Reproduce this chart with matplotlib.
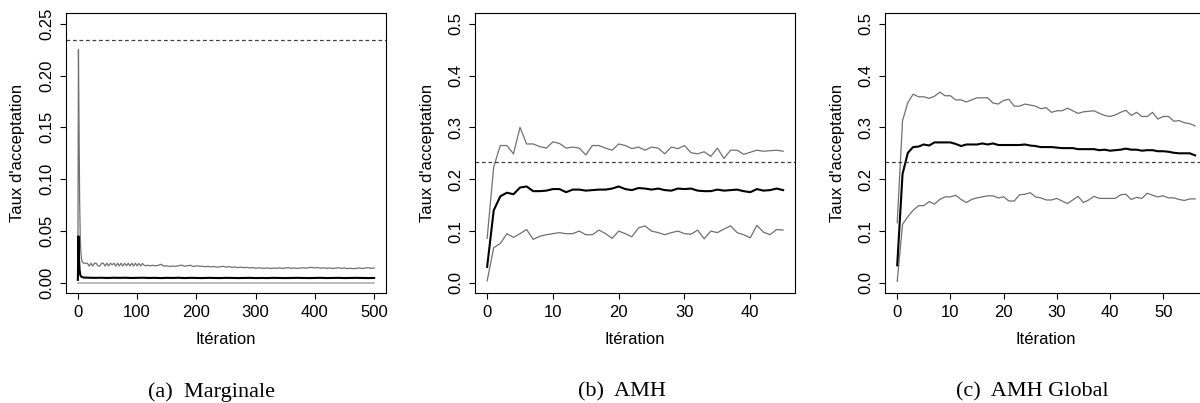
import numpy as np
import matplotlib
matplotlib.use("Agg")
import matplotlib.pyplot as plt

plt.rcParams['font.family'] = ['Liberation Sans', 'DejaVu Sans']

# ---------------- data ----------------
target_rate = 0.234

# Panel (a) Marginale
marg_up_x = [0, 1, 2, 3, 4, 5, 6, 7, 8] + list(range(10, 131, 3)) + list(range(135, 501, 5))
marg_up_y = [0.004, 0.225, 0.15, 0.08, 0.045, 0.030, 0.024, 0.021, 0.020,
             0.0190, 0.0190, 0.0190, 0.0163, 0.0190, 0.0163, 0.0190, 0.0190, 0.0163, 0.0163,
             0.0190, 0.0190, 0.0163, 0.0190, 0.0163, 0.0190, 0.0175, 0.0190, 0.0163, 0.0190,
             0.0163, 0.0190, 0.0163, 0.0190, 0.0165, 0.0190, 0.0163, 0.0190, 0.0163, 0.0190,
             0.0165, 0.0188, 0.0163, 0.0188, 0.0170, 0.0165, 0.0172, 0.0165, 0.0168, 0.0170,
             0.0165,
             0.0168, 0.0180, 0.0162, 0.0165, 0.0158, 0.0163, 0.0160, 0.0165, 0.0172, 0.0160,
             0.0166, 0.0170, 0.0158, 0.0165, 0.0162, 0.0160, 0.0156, 0.0160, 0.0155, 0.0158,
             0.0152, 0.0156, 0.0160, 0.0153, 0.0157, 0.0150, 0.0154, 0.0148, 0.0152, 0.0147,
             0.0150, 0.0145, 0.0148, 0.0142, 0.0146, 0.0143, 0.0140, 0.0145, 0.0139, 0.0143,
             0.0141, 0.0146, 0.0140, 0.0144, 0.0147, 0.0141, 0.0145, 0.0140, 0.0143, 0.0147,
             0.0142, 0.0148, 0.0150, 0.0145, 0.0148, 0.0142, 0.0146, 0.0140, 0.0144, 0.0139,
             0.0143, 0.0146, 0.0141, 0.0144, 0.0138, 0.0142, 0.0137, 0.0141, 0.0145, 0.0139,
             0.0143, 0.0147, 0.0141, 0.0144]
marg_mean_x = [0, 1, 2, 3, 4, 5, 6, 8] + list(range(10, 501, 10))
marg_mean_y = [0.003, 0.045, 0.022, 0.012, 0.008, 0.0065, 0.006, 0.0055,
               0.0052, 0.0050, 0.0049, 0.0050, 0.0048, 0.0050, 0.0049, 0.0050, 0.0048, 0.0049,
               0.0050, 0.0048, 0.0049, 0.0047, 0.0049, 0.0048, 0.0050, 0.0047, 0.0049, 0.0048,
               0.0047, 0.0049, 0.0048, 0.0047, 0.0049, 0.0048, 0.0047, 0.0048, 0.0049, 0.0047,
               0.0048, 0.0047, 0.0049, 0.0048, 0.0047, 0.0048, 0.0049, 0.0048, 0.0047, 0.0048,
               0.0049, 0.0047, 0.0048, 0.0049, 0.0047, 0.0048, 0.0049, 0.0048, 0.0047, 0.0048]
marg_low_x = [0, 500]
marg_low_y = [0.0, 0.0]

# Panel (b) AMH
amh_up = [0.086, 0.224, 0.265, 0.265, 0.249, 0.300, 0.268, 0.268, 0.263, 0.260,
          0.272, 0.269, 0.260, 0.262, 0.260, 0.247, 0.265, 0.265, 0.260, 0.256,
          0.268, 0.265, 0.259, 0.262, 0.256, 0.262, 0.260, 0.249, 0.262, 0.259,
          0.265, 0.251, 0.249, 0.253, 0.244, 0.260, 0.240, 0.256, 0.256, 0.248,
          0.252, 0.256, 0.254, 0.255, 0.256, 0.254]
amh_mean = [0.031, 0.140, 0.167, 0.174, 0.171, 0.184, 0.186, 0.177, 0.177, 0.178,
            0.181, 0.181, 0.175, 0.180, 0.180, 0.178, 0.179, 0.180, 0.180, 0.182,
            0.186, 0.181, 0.179, 0.183, 0.182, 0.180, 0.182, 0.179, 0.178, 0.182,
            0.181, 0.182, 0.178, 0.177, 0.177, 0.180, 0.178, 0.179, 0.180, 0.177,
            0.175, 0.181, 0.178, 0.179, 0.182, 0.179]
amh_low = [0.004, 0.068, 0.076, 0.095, 0.088, 0.095, 0.103, 0.084, 0.090, 0.093,
           0.095, 0.097, 0.095, 0.095, 0.100, 0.093, 0.093, 0.102, 0.095, 0.086,
           0.100, 0.095, 0.089, 0.106, 0.110, 0.100, 0.097, 0.093, 0.097, 0.100,
           0.095, 0.094, 0.102, 0.085, 0.100, 0.097, 0.104, 0.110, 0.097, 0.093,
           0.087, 0.111, 0.098, 0.093, 0.103, 0.102]

# Panel (c) AMH Global
glob_up = [0.116, 0.313, 0.348, 0.364, 0.359, 0.359, 0.356, 0.360, 0.368, 0.361,
           0.361, 0.353, 0.353, 0.349, 0.353, 0.357, 0.357, 0.357, 0.347, 0.345,
           0.352, 0.354, 0.341, 0.341, 0.345, 0.343, 0.341, 0.336, 0.338, 0.329,
           0.332, 0.332, 0.337, 0.332, 0.327, 0.330, 0.331, 0.332, 0.327, 0.323,
           0.321, 0.324, 0.329, 0.333, 0.323, 0.329, 0.321, 0.321, 0.329, 0.316,
           0.321, 0.321, 0.312, 0.313, 0.309, 0.307, 0.303]
glob_mean = [0.034, 0.210, 0.251, 0.262, 0.263, 0.267, 0.265, 0.271, 0.271, 0.271,
             0.271, 0.268, 0.264, 0.267, 0.267, 0.267, 0.269, 0.267, 0.269, 0.266,
             0.266, 0.266, 0.266, 0.266, 0.267, 0.265, 0.264, 0.262, 0.262, 0.262,
             0.261, 0.260, 0.260, 0.260, 0.258, 0.258, 0.258, 0.258, 0.256, 0.257,
             0.255, 0.256, 0.257, 0.259, 0.257, 0.257, 0.255, 0.256, 0.256, 0.254,
             0.254, 0.253, 0.251, 0.250, 0.250, 0.250, 0.246]
glob_low = [0.003, 0.113, 0.128, 0.140, 0.149, 0.149, 0.157, 0.152, 0.161, 0.166,
            0.166, 0.169, 0.161, 0.155, 0.161, 0.164, 0.166, 0.168, 0.168, 0.164,
            0.166, 0.158, 0.158, 0.170, 0.171, 0.174, 0.166, 0.164, 0.160, 0.160,
            0.163, 0.158, 0.153, 0.160, 0.167, 0.155, 0.160, 0.167, 0.163, 0.163,
            0.163, 0.163, 0.170, 0.171, 0.161, 0.165, 0.163, 0.173, 0.169, 0.166,
            0.168, 0.164, 0.164, 0.161, 0.159, 0.162, 0.162]

captions = ["(a)  Marginale", "(b)  AMH", "(c)  AMH Global"]
ylabel = "Taux d'acceptation"
xlabel = "Itération"

# ---------------- figure ----------------
W, H = 1200, 403
fig = plt.figure(figsize=(W / 100, H / 100), dpi=100)

def px_axes(left, right, top, bottom):
    return fig.add_axes([left / W, 1 - bottom / H, (right - left) / W, (bottom - top) / H])

def rlim(lo, hi):
    d = (hi - lo) * 0.04
    return lo - d, hi + d

GREY = '#707070'
FS = 12

axes = [px_axes(66, 386, 13.3, 293.3),
        px_axes(475.3, 795, 13.3, 293.3),
        px_axes(885.3, 1207, 13.3, 293.3)]

def style(ax, xticks, yticks, yfmt):
    ax.set_xticks(xticks)
    ax.set_yticks(yticks)
    ax.set_yticklabels([yfmt.format(v) for v in yticks], rotation=90, va='center')
    ax.tick_params(direction='out', length=4.3, width=0.8, labelsize=FS, pad=4.3, colors='black')
    for s in ax.spines.values():
        s.set_linewidth(0.8)
    ax.text(-48 / 320, 0.5, ylabel, rotation=90, ha='center', va='center',
            fontsize=FS, transform=ax.transAxes)
    ax.text(0.5, -46 / 280, xlabel, ha='center', va='center', fontsize=FS,
            transform=ax.transAxes)

def hline(ax):
    ax.axhline(target_rate, color='#404040', lw=0.9, dashes=(3.0, 2.2))

# (a)
ax = axes[0]
ax.plot(marg_low_x, marg_low_y, color='#a8a8a8', lw=1.1)
ax.plot(marg_up_x, marg_up_y, color=GREY, lw=0.9)
ax.plot(marg_mean_x, marg_mean_y, color='black', lw=1.5)
hline(ax)
ax.set_xlim(*rlim(0, 500))
ax.set_ylim(*rlim(0, 0.25))
style(ax, [0, 100, 200, 300, 400, 500], [0.0, 0.05, 0.10, 0.15, 0.20, 0.25], "{:.2f}")

# (b)
ax = axes[1]
xb = np.arange(len(amh_mean))
ax.plot(xb, amh_up, color=GREY, lw=0.9)
ax.plot(xb, amh_low, color=GREY, lw=0.9)
ax.plot(xb, amh_mean, color='black', lw=1.5)
hline(ax)
ax.set_xlim(*rlim(0, 45))
ax.set_ylim(*rlim(0, 0.5))
style(ax, [0, 10, 20, 30, 40], [0.0, 0.1, 0.2, 0.3, 0.4, 0.5], "{:.1f}")

# (c)
ax = axes[2]
xc = np.arange(len(glob_mean))
ax.plot(xc, glob_up, color=GREY, lw=0.9)
ax.plot(xc, glob_low, color=GREY, lw=0.9)
ax.plot(xc, glob_mean, color='black', lw=1.5)
hline(ax)
ax.set_xlim(*rlim(0, 56))
ax.set_ylim(*rlim(0, 0.5))
style(ax, [0, 10, 20, 30, 40, 50], [0.0, 0.1, 0.2, 0.3, 0.4, 0.5], "{:.1f}")

for cx, cap in zip([212, 621.7, 1032], captions):
    fig.text(cx / W, 1 - 391.7 / H, cap, ha='center', va='center', fontsize=16,
             family=['Liberation Serif', 'DejaVu Serif'])

fig.savefig('out.png', dpi=100)
